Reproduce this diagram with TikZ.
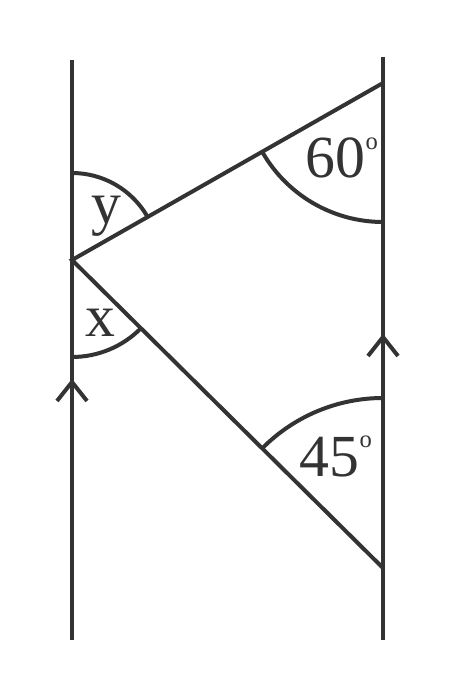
\documentclass[tikz,border=0pt]{standalone}
\usepackage{fontspec}
\setmainfont{Liberation Serif}
\usetikzlibrary{positioning,calc}
\def \px {0.02cm}
\def \deg {\raisebox{0.58cm}{\fontsize{14}{14}\selectfont o}}
\definecolor{ink}{HTML}{333333}

\begin{document}
\begin{tikzpicture}[x=\px,y=\px,line width=4*\px,draw=ink,
    lbl/.style={text=ink,font=\fontsize{34}{36}\selectfont,inner sep=0pt}]
    \useasboundingbox (0,0) rectangle (450,691);
    % the two parallel lines
    \coordinate (Ltop) at (72,631);
    \coordinate (Lbot) at (72,51);
    \coordinate (Rtop) at (383,634);
    \coordinate (Rbot) at (383,51);
    \coordinate (P) at (72,431);
    \coordinate (A) at (383,608);
    \coordinate (B) at (383,123);
    \draw (Ltop) -- (Lbot);
    \draw (Rtop) -- (Rbot);
    \draw (A) -- (P) -- (B);
    % parallel marks
    \draw (57,290) -- (72,309) -- (87,290);
    \draw (368,335) -- (383,354) -- (398,335);
    % angle arcs
    \draw ($(P)+(90:87)$) arc[start angle=90, end angle=30, radius=87];
    \draw ($(P)+(270:97)$) arc[start angle=270, end angle=315, radius=97];
    \draw ($(A)+(270:139)$) arc[start angle=270, end angle=210, radius=139];
    \draw ($(B)+(90:170)$) arc[start angle=90, end angle=135, radius=170];
    % labels
    \node[lbl] (y) at (106,475) {y};
    \node[lbl] (x) at (100,368) {x};
    \node[lbl] (a60) at (342,533) {60\deg};
    \node[lbl] (a45) at (336,235) {45\deg};
\end{tikzpicture}
\end{document}
